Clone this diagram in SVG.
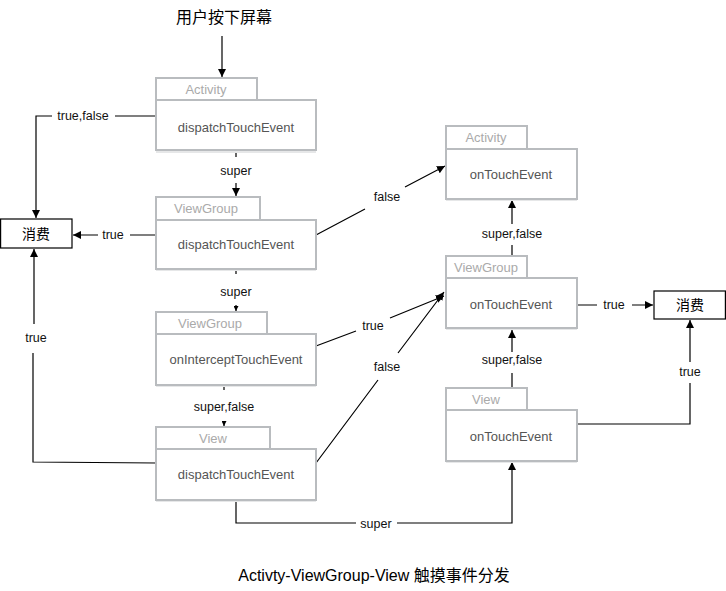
<svg xmlns="http://www.w3.org/2000/svg" width="726" height="591" viewBox="0 0 726 591">
<defs>
<marker id="ah" viewBox="0 0 10 10" refX="10" refY="5" markerWidth="8" markerHeight="8" markerUnits="userSpaceOnUse" orient="auto"><path d="M0,0 L10,5 L0,10 z" fill="#000"/></marker>
<marker id="as" viewBox="0 0 10 10" refX="10" refY="5" markerWidth="5" markerHeight="5" markerUnits="userSpaceOnUse" orient="auto"><path d="M0,0 L10,5 L0,10 z" fill="#000"/></marker>
<style>
.tab{fill:#fff;stroke:#b9bcbf;stroke-width:2}
.box{fill:#fff;stroke:#b9bcbf;stroke-width:2}
.sh{fill:#e6e7e8}
.tt{font-family:"Liberation Sans",Arial,sans-serif;font-size:13px;fill:#aaaaaa;text-anchor:middle}
.bt{font-family:"Liberation Sans",Arial,sans-serif;font-size:13px;fill:#555;text-anchor:middle}
.c{fill:#fff;stroke:#000;stroke-width:1.2}
.ct{font-family:"Noto Sans CJK SC",sans-serif;font-size:14px;fill:#000;text-anchor:middle}
.ln{fill:none;stroke:#000;stroke-width:1.2}
.lb{font-family:"Liberation Sans",Arial,sans-serif;font-size:12.5px;fill:#111;text-anchor:middle}
.ti{font-family:"Liberation Sans","Noto Sans CJK SC",sans-serif;font-size:16px;fill:#000;text-anchor:middle}
</style>
</defs>
<text class="ti" x="224" y="23">用户按下屏幕</text>
<g id="connectors">
<line class="ln" x1="222" y1="36" x2="222" y2="77" marker-end="url(#ah)"/>
<path class="ln" d="M156,116 H115 M52,116 H36 V218" marker-end="url(#ah)"/>
<text class="lb" x="83" y="120">true,false</text>
<path class="ln" d="M236,153 V157 M236,183 V196" marker-end="url(#ah)"/>
<text class="lb" x="236" y="175">super</text>
<path class="ln" d="M156,235 H130 M98,235 H73" marker-end="url(#ah)"/>
<text class="lb" x="113" y="239">true</text>
<path class="ln" d="M316,235 L365,209 M405,187 L445,166" marker-end="url(#ah)"/>
<text class="lb" x="387" y="201">false</text>
<path class="ln" d="M236,271 V274 M236,305 V311" marker-end="url(#as)"/>
<text class="lb" x="236" y="296">super</text>
<path class="ln" d="M224,386 V390 M224,421 V426" marker-end="url(#as)"/>
<text class="lb" x="224" y="411">super,false</text>
<path class="ln" d="M316,346 L356,331 M390,318 L444,296" marker-end="url(#ah)"/>
<text class="lb" x="373" y="330">true</text>
<path class="ln" d="M316,463 L378,380 M398,353 L444,292" marker-end="url(#ah)"/>
<text class="lb" x="387" y="371">false</text>
<path class="ln" d="M156,463 L33,462 V353 M34,324 V249" marker-end="url(#ah)"/>
<text class="lb" x="36" y="342">true</text>
<path class="ln" d="M236,501 V523 H356 M397,523 H512 V462" marker-end="url(#ah)"/>
<text class="lb" x="376" y="528">super</text>
<path class="ln" d="M512,388 V373 M512,352 V330" marker-end="url(#ah)"/>
<text class="lb" x="512" y="364">super,false</text>
<path class="ln" d="M512,256 V245 M512,224 V200" marker-end="url(#ah)"/>
<text class="lb" x="512" y="238">super,false</text>
<path class="ln" d="M577,305 H597 M632,305 H653" marker-end="url(#ah)"/>
<text class="lb" x="614" y="309">true</text>
<path class="ln" d="M577,424 H690 V383 M690,362 V320" marker-end="url(#ah)"/>
<text class="lb" x="690" y="376">true</text>
</g>
<g id="act-dispatch">
<rect class="tab" x="156" y="78" width="101" height="22"/>
<text class="tt" x="206" y="94">Activity</text>
<rect class="sh" x="156" y="150" width="160" height="3"/>
<rect class="box" x="156" y="100" width="160" height="50"/>
<text class="bt" x="236" y="132">dispatchTouchEvent</text>
</g>
<g id="vg-dispatch">
<rect class="tab" x="156" y="197" width="104" height="23"/>
<text class="tt" x="206" y="213">ViewGroup</text>
<rect class="sh" x="156" y="268" width="160" height="3"/>
<rect class="box" x="156" y="220" width="160" height="49"/>
<text class="bt" x="236" y="249">dispatchTouchEvent</text>
</g>
<g id="vg-intercept">
<rect class="tab" x="156" y="312" width="111" height="22"/>
<text class="tt" x="210" y="328">ViewGroup</text>
<rect class="sh" x="156" y="384" width="160" height="3"/>
<rect class="box" x="156" y="334" width="160" height="51"/>
<text class="bt" x="236" y="364">onInterceptTouchEvent</text>
</g>
<g id="view-dispatch">
<rect class="tab" x="156" y="427" width="114" height="22"/>
<text class="tt" x="213" y="443">View</text>
<rect class="sh" x="156" y="499" width="160" height="3"/>
<rect class="box" x="156" y="449" width="160" height="51"/>
<text class="bt" x="236" y="479">dispatchTouchEvent</text>
</g>
<g id="act-touch">
<rect class="tab" x="446" y="126" width="81" height="23"/>
<text class="tt" x="486" y="142">Activity</text>
<rect class="sh" x="446" y="198" width="131" height="3"/>
<rect class="box" x="446" y="149" width="131" height="50"/>
<text class="bt" x="511" y="179">onTouchEvent</text>
</g>
<g id="vg-touch">
<rect class="tab" x="446" y="256" width="81" height="22"/>
<text class="tt" x="486" y="272">ViewGroup</text>
<rect class="sh" x="446" y="327" width="131" height="3"/>
<rect class="box" x="446" y="278" width="131" height="50"/>
<text class="bt" x="511" y="309">onTouchEvent</text>
</g>
<g id="view-touch">
<rect class="tab" x="446" y="388" width="81" height="22"/>
<text class="tt" x="486" y="404">View</text>
<rect class="sh" x="446" y="460" width="131" height="3"/>
<rect class="box" x="446" y="410" width="131" height="51"/>
<text class="bt" x="511" y="441">onTouchEvent</text>
</g>
<g id="consume-left">
<rect class="c" x="0.6" y="219" width="71.4" height="29"/>
<text class="ct" x="36" y="239">消费</text>
</g>
<g id="consume-right">
<rect class="c" x="654" y="291" width="71.4" height="28"/>
<text class="ct" x="690" y="310">消费</text>
</g>
<text class="ti" x="374" y="581">Activty-ViewGroup-View 触摸事件分发</text>
</svg>
